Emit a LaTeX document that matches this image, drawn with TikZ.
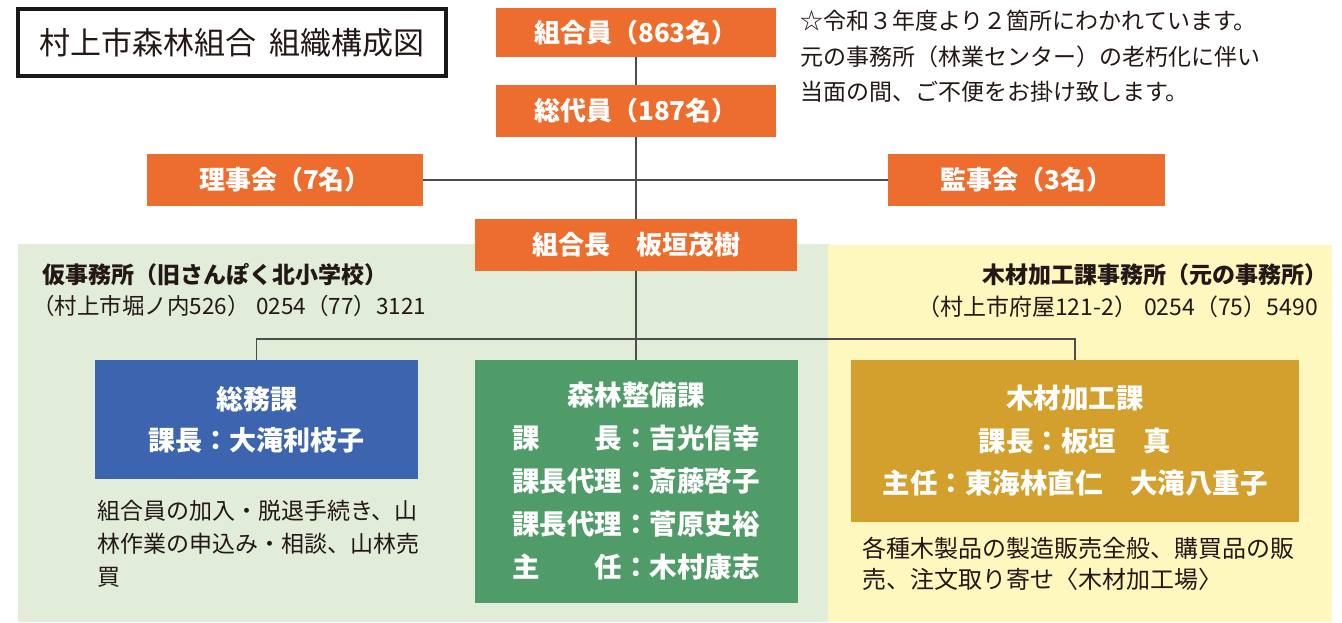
\documentclass[tikz,border=0pt]{standalone}
\usepackage{fontspec}
\setmainfont{Noto Sans CJK JP}
\usepackage{tikz}
\usetikzlibrary{positioning}
\definecolor{orgorange}{HTML}{EC6D2D}
\definecolor{orgblue}{HTML}{3D65AF}
\definecolor{orggreen}{HTML}{4F9C69}
\definecolor{orggold}{HTML}{D3A02D}
\definecolor{bggreen}{HTML}{E2EDD9}
\definecolor{bgyellow}{HTML}{FEF8BE}
\definecolor{linegray}{HTML}{4D4D4D}
\definecolor{textdark}{HTML}{231815}
\tikzstyle{line} = [draw=linegray,line width=1.6pt]
\tikzstyle{orgbox} = [fill=orgorange,text=white,inner sep=0pt,minimum height=52pt,font=\bfseries\fontsize{26}{30}\selectfont]
\tikzstyle{section} = [text=white,inner sep=0pt,align=center]
\tikzstyle{desc} = [text=textdark,inner sep=0pt,align=left]
\newcommand{\post}[2]{\makebox[4em][s]{#1\hfill#2}}

\begin{document}
\begin{tikzpicture}[x=1pt,y=-1pt,node distance=16pt]
  \useasboundingbox (0,0) rectangle (1342,623);
  % offices in the background
  \fill[bggreen] (18,244) rectangle (830,622);
  \fill[bgyellow] (828,245) rectangle (1332,622);

  \node[draw=black!90,line width=4pt,minimum width=428pt,minimum height=67pt,inner sep=0pt,text=textdark,font=\fontsize{31}{36}\selectfont] (title) at (232,42.5) {村上市森林組合\hspace{.45em}組織構成図};
  \node[desc,anchor=north west,font=\fontsize{23}{35.5}\selectfont] (note) at (800,10) {☆令和３年度より２箇所にわかれています。\\元の事務所（林業センター）の老朽化に伴い\\当面の間、ご不便をお掛け致します。};

  % members down to the chairman
  \node[orgbox,minimum width=280pt,minimum height=49pt] (members) at (636,32.5) {組合員（863名）};
  \node[orgbox,minimum width=280pt] (delegates) at (636,111) {総代員（187名）};
  \node[orgbox,minimum width=276pt] (board) at (285,180) {理事会（7名）};
  \node[orgbox,minimum width=277pt] (auditors) at (1026.5,180) {監事会（3名）};
  \node[orgbox,minimum width=322pt] (chief) at (636,245) {組合長\hspace{1em}板垣茂樹};

  % office headings
  \node[desc,anchor=north west,font=\bfseries\fontsize{23}{26}\selectfont] (tempoffice) at (42,263) {仮事務所（旧さんぽく北小学校）};
  \node[desc,below right=9pt and -10pt of tempoffice.south west,font=\fontsize{22.5}{26}\selectfont] (tempaddr) {（村上市堀ノ内526）\hspace{.3em}0254（77）3121};
  \node[desc,anchor=north east,font=\bfseries\fontsize{23}{26}\selectfont] (mainoffice) at (1328,263) {木材加工課事務所（元の事務所）};
  \node[desc,below left=10pt and 10pt of mainoffice.south east,font=\fontsize{23}{26}\selectfont] (mainaddr) {（村上市府屋121-2）\hspace{.3em}0254（75）5490};

  % sections
  \node[section,fill=orgblue,minimum width=323pt,minimum height=119pt,font=\bfseries\fontsize{27}{41}\selectfont] (soumu) at (256.5,419.5) {総務課\\課長：大滝利枝子};
  \node[section,fill=orggreen,minimum width=323pt,minimum height=243pt,font=\bfseries\fontsize{27.5}{43}\selectfont] (shinrin) at (636,481.5) {森林整備課\\\post{課}{長}：吉光信幸\\課長代理：斎藤啓子\\課長代理：菅原史裕\\\post{主}{任}：木村康志};
  \node[section,fill=orggold,minimum width=448pt,minimum height=162pt,font=\bfseries\fontsize{27.5}{42.5}\selectfont] (mokuzai) at (1075,441) {木材加工課\\課長：板垣\hspace{1em}真\\主任：東海林直仁\hspace{1em}大滝八重子};

  \node[desc,below right=21pt and 2pt of soumu.south west,font=\fontsize{23}{33}\selectfont] (soumutext) {組合員の加入・脱退手続き、山\\林作業の申込み・相談、山林売\\買};
  \node[desc,below right=15pt and 11pt of mokuzai.south west,font=\fontsize{24}{31}\selectfont] (mokuzaitext) {各種木製品の製造販売全般、購買品の販\\売、注文取り寄せ〈木材加工場〉};

  % connectors
  \coordinate (split) at (636,339);
  \path[line] (members) -- (delegates);
  \path[line] (delegates) -- (chief);
  \path[line] (board) -- (auditors);
  \path[line] (chief) -- (split);
  \path[line] (split) -| (soumu.north);
  \path[line] (split) -| (mokuzai.north);
  \path[line] (split) -- (shinrin);
\end{tikzpicture}
\end{document}
